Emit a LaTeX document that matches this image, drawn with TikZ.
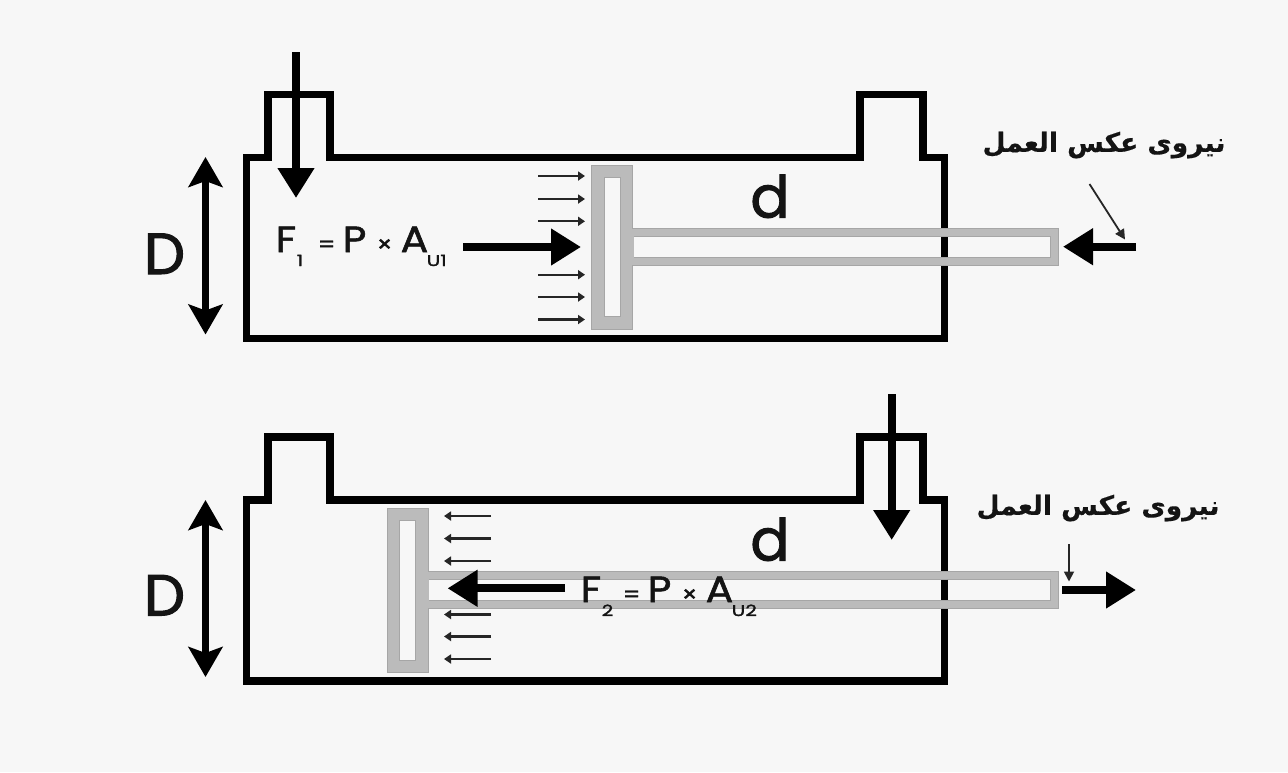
\documentclass[tikz,border=0pt]{standalone}
\usepackage{fontspec}
\usetikzlibrary{arrows.meta}
\setmainfont{Poppins}
\newfontfamily\medfont{Poppins}[FakeBold=1.8]
\newfontfamily\formfont{Poppins}[FakeBold=1.6,FakeStretch=1.12]
\newfontfamily\subfont{Poppins}[FakeBold=1.6,FakeStretch=1.3]
\newfontfamily\fafont[Script=Arabic]{DejaVu Sans}[FakeBold=0.4]
\TeXXeTstate=1
\definecolor{bgc}{HTML}{F7F7F7}
\definecolor{pgray}{HTML}{BBBBBB}
\definecolor{pedge}{HTML}{A6A6A6}
\definecolor{tink}{HTML}{141414}
\newcommand{\CylOutline}{%
  \draw[wall] (246.5,338.5) -- (944.5,338.5) -- (944.5,157.5) -- (923,157.5) -- (923,94.5) -- (860,94.5) -- (860,157.5) -- (330,157.5) -- (330,94.5) -- (268,94.5) -- (268,157.5) -- (246.5,157.5) -- cycle;}
\newcommand{\FaLabel}{{\fafont\bfseries\beginR نیروی عکس العمل\endR}}
\newcommand{\Pl}[2]{\rlap{\hspace*{#1pt}#2}}
\newcommand{\Sm}[1]{{\fontsize{22}{22}\selectfont #1}}
\newcommand{\Sb}[1]{\raisebox{-14pt}{\subfont\fontsize{15.5}{15.5}\selectfont #1}}
\newcommand{\Formula}[2]{\Pl{0}{F}\Pl{21}{\Sb{#1}}\Pl{42}{\Sm{=}}\Pl{67}{P}\Pl{101}{\Sm{×}}\Pl{125}{A}\Pl{151}{\Sb{#2}}}
\tikzset{
  wall/.style={line width=7.6pt,line join=miter,draw=black},
  piston/.style={fill=pgray,draw=pedge,line width=0.8pt,line join=miter},
  hole/.style={fill=bgc,draw=pedge,line width=0.6pt},
  bigarrow/.style={line width=8pt,draw=black,-{Triangle[length=30pt,width=35pt]}},
  thinarrow/.style={line width=2.2pt,draw=black!85,-{Triangle[length=7pt,width=9pt]}},
  noterow/.style={line width=1.8pt,draw=black!85,-{Triangle[length=10pt,width=10pt]}},
  dimarrow/.style={line width=7.5pt,draw=black,{Stealth[inset=6pt,length=30pt,width=34pt]}-{Stealth[inset=6pt,length=30pt,width=34pt]}},
  bigletter/.style={inner sep=0pt,font=\medfont\fontsize{58}{58}\selectfont,text=black!92},
  formula/.style={inner sep=0pt,anchor=base west,font=\formfont\fontsize{36.5}{36.5}\selectfont,text=tink},
  falabel/.style={inner sep=0pt,font=\fontsize{26.5}{30}\selectfont,text=tink}
}
\begin{document}
\begin{tikzpicture}[x=1pt,y=-1pt]
\fill[bgc] (0,0) rectangle (1288,772);
\useasboundingbox (0,0) rectangle (1288,772);

% ---- upper cylinder
\CylOutline
\draw[piston] (591,165) -- (632.7,165) -- (632.7,228.5) -- (1058.5,228.5) -- (1058.5,265.5) -- (632.7,265.5) -- (632.7,329.3) -- (591,329.3) -- cycle;
\draw[hole] (604,177.3) rectangle (620.7,316.7);
\fill[bgc] (633.5,236.7) rectangle (1050,257.7);
\draw[pedge,line width=0.6pt] (633.5,236.7) -- (1050,236.7) -- (1050,257.7) -- (633.5,257.7);
\draw[black,line width=7.6pt] (944.5,237) -- (944.5,257.4);

\draw[bigarrow] (296,52) -- (296,198);
\draw[dimarrow] (205.5,157) -- (205.5,334.5);
\foreach \yy in {176,199,221.3,274.7,297,319.5}
  \draw[thinarrow] (538,\yy) -- (585,\yy);
\draw[bigarrow] (463,247) -- (581,247);
\draw[bigarrow] (1136,246.7) -- (1063,246.7);
\draw[noterow] (1089.5,184) -- (1125,239.5);

\node[bigletter,anchor=base] (D1) at (164.5,274) {D};
\node[bigletter,anchor=base] (d1) at (770,217.5) {d};
\node[formula] (F1) at (275,252) {\Formula{1}{U1}};
\node[falabel] (N1) at (1104,145) {\FaLabel};

% ---- lower cylinder
\begin{scope}[shift={(0,342.5)}]
\CylOutline
\end{scope}
\draw[piston] (387.3,508) -- (428.3,508) -- (428.3,571) -- (1058.5,571) -- (1058.5,608.3) -- (428.3,608.3) -- (428.3,672) -- (387.3,672) -- cycle;
\draw[hole] (399,520) rectangle (415.7,660);
\fill[bgc] (429,579.3) rectangle (1050,600);
\draw[pedge,line width=0.6pt] (429,579.3) -- (1050,579.3) -- (1050,600) -- (429,600);
\draw[black,line width=7.6pt] (944.5,579.6) -- (944.5,599.7);

\draw[bigarrow] (891.7,394) -- (891.7,540);
\draw[dimarrow] (205.5,500) -- (205.5,677);
\foreach \yy in {516,538.5,561,614.5,636.5,659}
  \draw[thinarrow] (491,\yy) -- (444,\yy);
\draw[bigarrow] (565,588.3) -- (447.5,588.3);
\draw[bigarrow] (1062,590) -- (1136,590);
\draw[noterow] (1069,544) -- (1069,581.5);

\node[bigletter,anchor=base] (D2) at (164.5,615.5) {D};
\node[bigletter,anchor=base] (d2) at (770,560.5) {d};
\node[formula] (F2) at (580,602) {\Formula{2}{U2}};
\node[falabel] (N2) at (1098,508) {\FaLabel};
\end{tikzpicture}
\end{document}
